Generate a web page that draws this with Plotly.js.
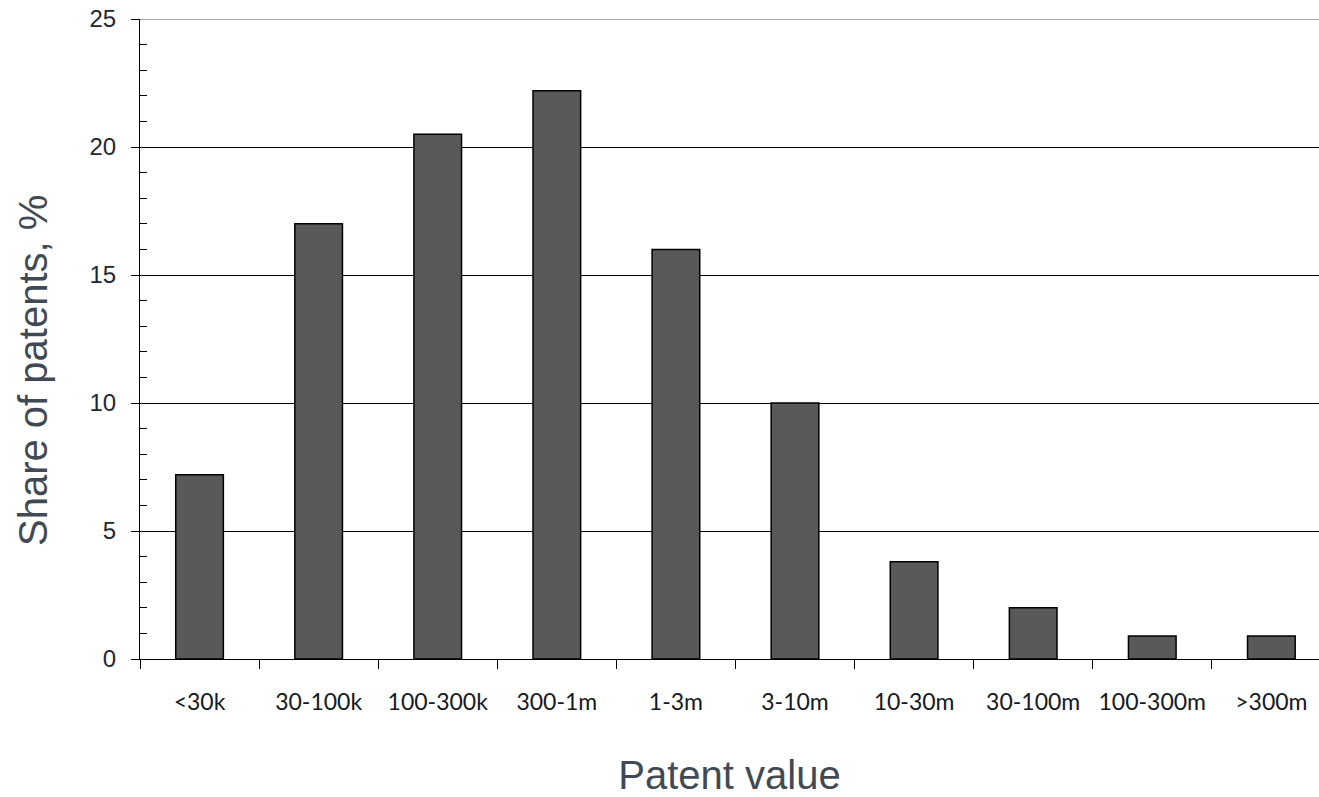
<!DOCTYPE html>
<html>
<head>
<meta charset="utf-8">
<script src="https://cdn.plot.ly/plotly-3.0.1.min.js"></script>
<style>html,body{margin:0;padding:0;background:#fff;}#chart{width:1319px;height:797px;}</style>
</head>
<body>
<div id="chart"></div>
<script>
const categories = ["<30k", "30-100k", "100-300k", "300-1m", "1-3m", "3-10m", "10-30m", "30-100m", "100-300m", ">300m"];
const shares = [7.2, 17.0, 20.5, 22.2, 16.0, 10.0, 3.8, 2.0, 0.9, 0.9];
const yTickValues = [0, 5, 10, 15, 20, 25];
const xTitle = "Patent value";
const yTitle = "Share of patents, %";

const trace = {
  type: "bar",
  x: categories,
  y: shares,
  width: 0.4,
  marker: {color: "#595959", line: {color: "#000000", width: 1.5}},
  hoverinfo: "x+y"
};

const layout = {
  width: 1319,
  height: 797,
  margin: {l: 140, r: 0, t: 19, b: 138},
  paper_bgcolor: "#ffffff",
  plot_bgcolor: "#ffffff",
  showlegend: false,
  xaxis: {
    type: "category",
    range: [-0.5, 9.4],
    showline: true,
    linecolor: "#000000",
    linewidth: 1,
    ticks: "outside",
    tickson: "boundaries",
    ticklen: 9,
    tickcolor: "#000000",
    tickwidth: 1,
    showgrid: false,
    zeroline: false,
    ticklabelstandoff: 22,
    tickfont: {family: "Lato", size: 23, color: "#15191f"},
    title: {text: xTitle, font: {family: "Liberation Sans, Arial", size: 40, color: "#414a54"}, standoff: 50}
  },
  yaxis: {
    range: [0, 25],
    tickvals: yTickValues,
    ticktext: yTickValues.map(String),
    showline: true,
    linecolor: "#000000",
    linewidth: 1,
    ticks: "outside",
    ticklen: 8,
    tickcolor: "#000000",
    tickwidth: 1,
    ticklabelstandoff: 10,
    showgrid: true,
    gridcolor: "#000000",
    gridwidth: 1,
    zeroline: false,
    tickfont: {family: "Liberation Sans, Arial", size: 24, color: "#1d2733"},
    minor: {ticks: "inside", ticklen: 7, dtick: 1, tickcolor: "#000000", tickwidth: 1, showgrid: false}
  },
  shapes: [{
    type: "line", xref: "paper", yref: "y", x0: 0, x1: 1, y0: 25, y1: 25,
    line: {color: "#a6a6a6", width: 2}
  }],
  annotations: [{
    text: yTitle,
    xref: "paper", yref: "paper",
    x: (33 - 140) / 1179, y: (659 - 371) / 640,
    xanchor: "center", yanchor: "middle",
    textangle: -90,
    showarrow: false,
    font: {family: "Liberation Sans, Arial", size: 40, color: "#414a54"}
  }]
};

Plotly.newPlot("chart", [trace], layout, {displayModeBar: false, staticPlot: true});
</script>
</body>
</html>
